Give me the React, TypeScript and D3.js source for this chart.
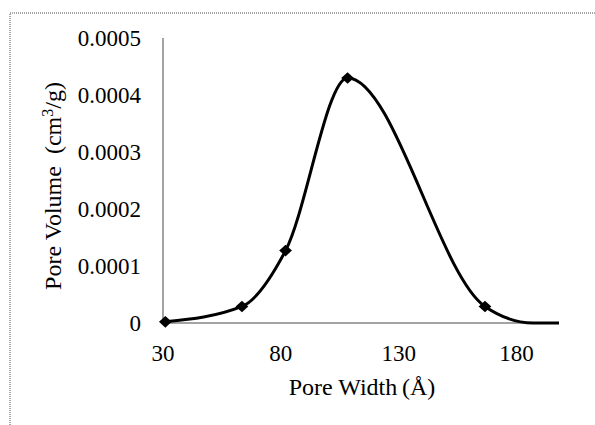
import React from "react";
import * as d3 from "d3";

const poreWidth = [31, 63.5, 82, 108.3, 166.6, 187, 198];
const poreVolume = [0.000002, 0.000029, 0.000127, 0.00043, 0.000029, 0, 0];
const showMarker = [true, true, true, true, true, false, false];
const xTicks = [30, 80, 130, 180];
const yTicks = [0, 0.0001, 0.0002, 0.0003, 0.0004, 0.0005];
const xTitle = "Pore Width\u2009(Å)";

const W = 595;
const H = 425;
const FONT = "'Liberation Serif', 'Times New Roman', serif";

export default function App() {
  const x = d3.scaleLinear().domain([30, 198]).range([163, 559]);
  const y = d3.scaleLinear().domain([0, 0.0005]).range([323, 38]);
  const pts = poreWidth.map((w, i) => [x(w), y(poreVolume[i])] as [number, number]);
  const line = d3.line().curve(d3.curveMonotoneX)(pts) || "";
  const diamond = d3.symbol().type(d3.symbolDiamond2).size(85)() || "";

  return (
    <svg width={W} height={H} style={{ position: "absolute", left: 0, top: 0, background: "#fff" }}>
      <rect x={10} y={13} width={W + 20} height={H + 20} fill="#fff" stroke="#a6a6a6" strokeWidth={2} strokeDasharray="1,1" />
      <line x1={x(30)} x2={x(30)} y1={y(0.0005)} y2={y(0)} stroke="#868686" strokeWidth={1.5} />
      <line x1={x(30)} x2={x(198)} y1={y(0)} y2={y(0)} stroke="#868686" strokeWidth={1.5} />
      <path d={line} fill="none" stroke="#000" strokeWidth={3} />
      {pts.map((p, i) =>
        showMarker[i] ? (
          <path key={i} d={diamond} transform={`translate(${p[0]},${p[1]}) scale(1.1,1)`} fill="#000" />
        ) : null
      )}
      {yTicks.map((t) => (
        <text key={t} x={141} y={y(t)} dy="0.33em" textAnchor="end" fontFamily={FONT} fontSize={23} fill="#000">
          {t === 0 ? "0" : t.toFixed(4)}
        </text>
      ))}
      {xTicks.map((t) => (
        <text key={t} x={x(t)} y={361} textAnchor="middle" fontFamily={FONT} fontSize={23} fill="#000">
          {t}
        </text>
      ))}
      <text x={362} y={395} textAnchor="middle" fontFamily={FONT} fontSize={24} fill="#000">
        {xTitle}
      </text>
      <text transform={`translate(61,186) rotate(-90)`} textAnchor="middle" fontFamily={FONT} fontSize={24} fill="#000" style={{ whiteSpace: "pre" }}>
        {"Pore Volume  (cm"}<tspan dy="-8" fontSize={16}>3</tspan><tspan dy="8">/g)</tspan>
      </text>
    </svg>
  );
}
